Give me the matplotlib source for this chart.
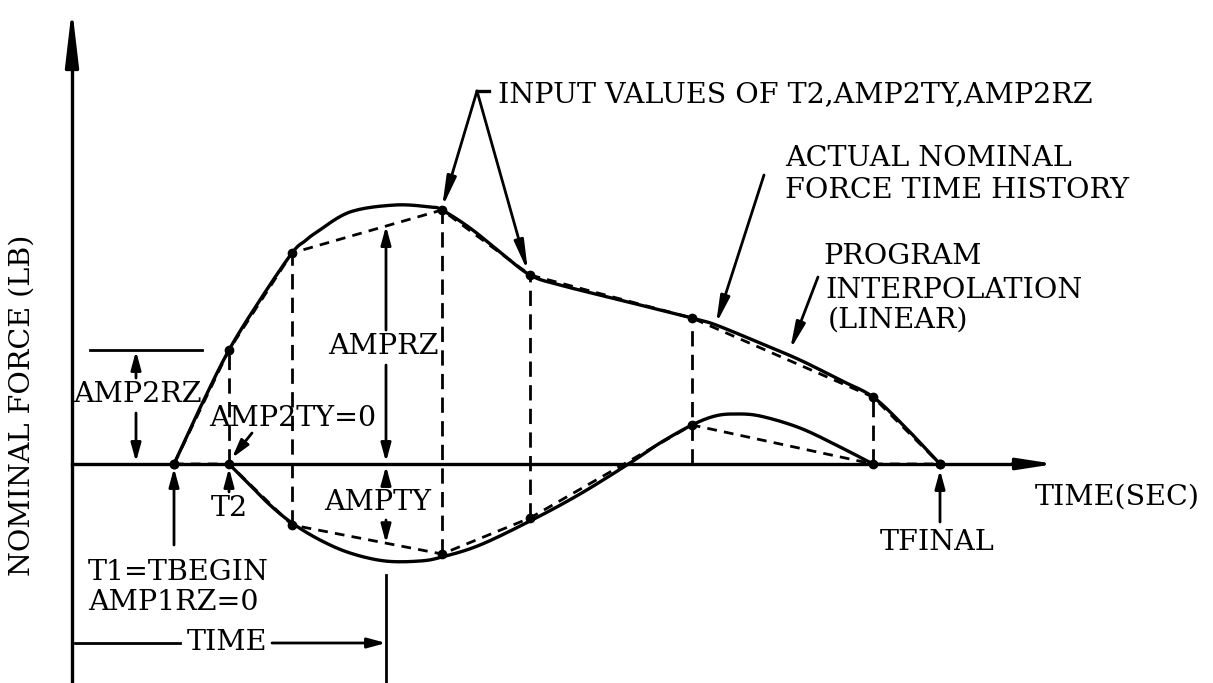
import numpy as np
import matplotlib.pyplot as plt

# input points (time, amplitude) given to the program
t_in = [102, 157, 220, 370, 458, 620, 801, 868]
rz_in = [0, 114, 211, 254, 189, 146, 67, 0]
ty_in = [0, 0, -61, -90, -54, 39, 0, 0]

# actual nominal force time history
rz_t = [102, 128, 157, 188, 220, 233, 245, 278, 323, 358, 370, 398, 428, 458, 488,
        548, 620, 644, 688, 728, 768, 801, 833, 868]
rz_f = [0, 56, 114, 164, 211, 223, 232, 252, 259, 257, 254, 236, 212, 189, 179,
        164, 146, 139, 121, 104, 84, 67, 37, 0]
ty_t = [157, 178, 198, 220, 248, 278, 313, 348, 370, 408, 460, 508, 558, 588,
        620, 643, 663, 688, 728, 768, 801]
ty_f = [0, -21, -41, -59, -76, -89, -97, -97, -93, -81, -56, -30, 1, 21,
        39, 48, 50, 48, 36, 17, 0]

t_mark = 314  # the TIME at which AMPRZ / AMPTY are read

FONT = dict(family='DejaVu Serif', fontsize=20.5, color='black')


def smooth(x, y, n=14):
    p = np.column_stack([x, y]).astype(float)
    p = np.vstack([2 * p[0] - p[1], p, 2 * p[-1] - p[-2]])
    s = np.linspace(0, 1, n, endpoint=False)[:, None]
    out = []
    for i in range(1, len(p) - 2):
        p0, p1, p2, p3 = p[i - 1], p[i], p[i + 1], p[i + 2]
        seg = 0.5 * (2 * p1 + (-p0 + p2) * s + (2 * p0 - 5 * p1 + 4 * p2 - p3) * s ** 2
                     + (-p0 + 3 * p1 - 3 * p2 + p3) * s ** 3)
        out.append(seg)
    out.append(p[-2][None])
    out = np.vstack(out)
    return out[:, 0], out[:, 1]


def arrow(ax, start, end, lw=2.0, hl=0.55, hw=0.15):
    ax.annotate('', xy=end, xytext=start,
                arrowprops=dict(arrowstyle=f'-|>,head_length={hl},head_width={hw}',
                                lw=lw, color='black', shrinkA=0, shrinkB=0,
                                mutation_scale=20))


fig = plt.figure(figsize=(12.13, 6.83), dpi=100)
ax = fig.add_axes([0, 0, 1, 1])
ax.set_xlim(-72, 1141)
ax.set_ylim(-219, 464)
ax.axis('off')

# axes with arrow heads
ax.plot([0, 0], [-219, 420], color='black', lw=2.4)
arrow(ax, (0, 400), (0, 456), lw=2.4, hl=1.7, hw=0.2)
ax.plot([0, 960], [0, 0], color='black', lw=2.4)
arrow(ax, (940, 0), (983, 0), lw=2.4, hl=1.1, hw=0.17)

# actual curves
x, y = smooth(rz_t, rz_f)
ax.plot(x, y, color='black', lw=2.4, solid_capstyle='round')
x, y = smooth(ty_t, ty_f)
ax.plot(x, y, color='black', lw=2.4, solid_capstyle='round')

# linear interpolation between input points
ax.plot(t_in, rz_in, color='black', lw=2.0, dashes=(3.5, 2.6))
ax.plot(t_in, ty_in, color='black', lw=2.0, dashes=(3.5, 2.6))
ax.plot(t_in, rz_in, 'o', color='black', ms=6)
ax.plot(t_in, ty_in, 'o', color='black', ms=6)

# dashed verticals at the input times
for t, rz, ty in zip(t_in[1:-1], rz_in[1:-1], ty_in[1:-1]):
    ax.plot([t, t], [min(ty, 0), rz], color='black', lw=2.0, dashes=(5.5, 3))

# AMPRZ / AMPTY at the marked time
amprz = np.interp(t_mark, t_in, rz_in)
ampty = np.interp(t_mark, t_in, ty_in)
arrow(ax, (t_mark, 134), (t_mark, amprz))
arrow(ax, (t_mark, 99), (t_mark, 2))
ax.text(t_mark - 3, 117, 'AMPRZ', ha='center', va='center', **FONT)
arrow(ax, (t_mark, -22), (t_mark, -2))
arrow(ax, (t_mark, -56), (t_mark, ampty))
ax.text(t_mark - 8, -39, 'AMPTY', ha='center', va='center', **FONT)
ax.plot([t_mark, t_mark], [-111, -219], color='black', lw=2.0)

# TIME span
ax.plot([3, 108], [-179, -179], color='black', lw=2.0)
arrow(ax, (200, -179), (t_mark, -179))
ax.text(155, -179, 'TIME', ha='center', va='center', **FONT)

# AMP2RZ bracket
ax.plot([18, 130], [rz_in[1], rz_in[1]], color='black', lw=2.0)
arrow(ax, (64, rz_in[1] - 28), (64, rz_in[1] - 1))
ax.text(65, 69, 'AMP2RZ', ha='center', va='center', **FONT)
arrow(ax, (64, 51), (64, 2))

# T1, T2, TFINAL markers
arrow(ax, (t_in[0], -81), (t_in[0], -4))
ax.text(16, -108, 'T1=TBEGIN', ha='left', va='center', **FONT)
ax.text(16, -138, 'AMP1RZ=0', ha='left', va='center', **FONT)
arrow(ax, (t_in[1], -28), (t_in[1], -4))
ax.text(t_in[1], -44, 'T2', ha='center', va='center', **FONT)
ax.text(221, 46, 'AMP2TY=0', ha='center', va='center', **FONT)
arrow(ax, (180, 31), (t_in[1] + 3, 6))
arrow(ax, (t_in[-1], -58), (t_in[-1], -6))
ax.text(865, -79, 'TFINAL', ha='center', va='center', **FONT)
ax.text(963, -33, 'TIME(SEC)', ha='left', va='center', **FONT)

# callouts
apex = (405, 373)
ax.plot([apex[0], apex[0] + 12], [apex[1], apex[1]], color='black', lw=2.4)
arrow(ax, apex, (t_in[3], rz_in[3] + 2), hl=0.9, hw=0.14)
arrow(ax, apex, (t_in[4] - 2, rz_in[4] + 3), hl=0.9, hw=0.14)
ax.text(426, 369, 'INPUT VALUES OF T2,AMP2TY,AMP2RZ', ha='left', va='center', **FONT)

ax.text(713, 306, 'ACTUAL NOMINAL', ha='left', va='center', **FONT)
ax.text(713, 273, 'FORCE TIME HISTORY', ha='left', va='center', **FONT)
arrow(ax, (692, 289), (644, 140), hl=0.8, hw=0.14)

ax.text(751, 207, 'PROGRAM', ha='left', va='center', **FONT)
ax.text(753, 174, 'INTERPOLATION', ha='left', va='center', **FONT)
ax.text(756, 144, '(LINEAR)', ha='left', va='center', **FONT)
arrow(ax, (746, 187), (718, 114), hl=0.8, hw=0.14)

ax.text(-50, 59, 'NOMINAL FORCE (LB)', rotation=90, ha='center', va='center', **FONT)

fig.savefig('out.png', dpi=100)
